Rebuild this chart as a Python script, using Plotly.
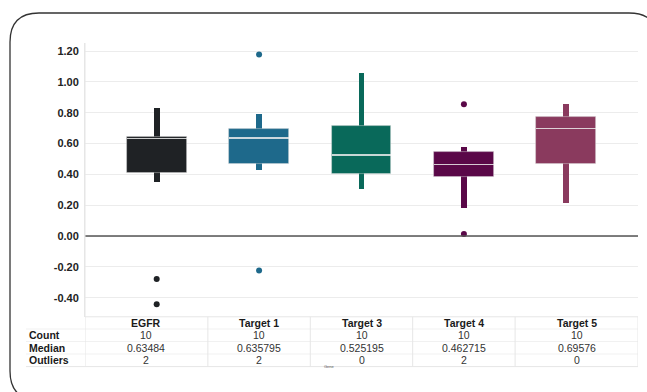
import plotly.graph_objects as go

# ---------------- data ----------------
genes = ["EGFR", "Target 1", "Target 3", "Target 4", "Target 5"]
lower_whisker = [0.35, 0.427, 0.304, 0.179, 0.216]
q1 = [0.41, 0.47, 0.401, 0.384, 0.466]
medians = [0.63484, 0.635795, 0.525195, 0.462715, 0.69576]
q3 = [0.643, 0.693, 0.714, 0.544, 0.772]
upper_whisker = [0.83, 0.794, 1.06, 0.578, 0.859]
outlier_genes = ["EGFR", "EGFR", "Target 1", "Target 1", "Target 4", "Target 4"]
outlier_values = [-0.278, -0.442, 1.178, -0.224, 0.854, 0.013]
counts = [10, 10, 10, 10, 10]
median_labels = ["0.63484", "0.635795", "0.525195", "0.462715", "0.69576"]
outlier_counts = [2, 2, 0, 2, 0]
row_labels = ["Count", "Median", "Outliers"]
y_ticks = [-0.4, -0.2, 0.0, 0.2, 0.4, 0.6, 0.8, 1.0, 1.2]

colors = ["#1f2225", "#1e698b", "#09695a", "#5a0848", "#8a3a5e"]

# ---------------- layout geometry ----------------
W, H = 647, 392
ML, MR, MT, MB = 85, 9, 43, 75
PW, PH = W - ML - MR, H - MT - MB
XR = [-0.7, 4.7]
YR = [-0.525, 1.252]


def px_x(px):
    return (px - ML) / PW


def px_y(py):
    return (H - MB - py) / PH


fig = go.Figure()

# whiskers
fig.add_trace(go.Bar(
    x=genes, base=lower_whisker,
    y=[u - l for u, l in zip(upper_whisker, lower_whisker)],
    width=0.058, marker=dict(color=colors, line=dict(width=0)),
    hoverinfo="skip", showlegend=False))
# boxes
fig.add_trace(go.Bar(
    x=genes, base=q1, y=[b - a for a, b in zip(q1, q3)],
    width=0.585, marker=dict(color=colors, line=dict(color="rgba(215,215,215,0.55)", width=0.8)),
    hoverinfo="skip", showlegend=False))
# medians
fig.add_trace(go.Bar(
    x=genes, base=[m - 0.004 for m in medians], y=[0.008] * len(medians),
    width=0.585, marker=dict(color="rgba(235,235,235,0.85)", line=dict(width=0)),
    hoverinfo="skip", showlegend=False))
# outliers
fig.add_trace(go.Scatter(
    x=outlier_genes, y=outlier_values, mode="markers",
    marker=dict(size=6, color=[colors[genes.index(g)] for g in outlier_genes]),
    hoverinfo="skip", showlegend=False))

shapes = []
annotations = []

# zero line
shapes.append(dict(type="line", xref="paper", yref="y", x0=0, x1=1, y0=0, y1=0,
                   line=dict(color="#555555", width=1.4), layer="above"))

# table geometry
bounds = [XR[0]] + [i + 0.5 for i in range(len(genes) - 1)] + [XR[1]]
row_px = [322.8, 335.0, 347.8, 360.3]
line_px = [316.8, 329.0, 341.5, 354.0, 366.6]
grid_col = "#e6e6e6"

for i, lp in enumerate(line_px):
    shapes.append(dict(type="line", xref="paper", yref="paper",
                       x0=px_x(26) if i > 0 else 0, x1=1,
                       y0=px_y(lp), y1=px_y(lp),
                       line=dict(color=grid_col if i in (0, 4) else "#f1f1f1", width=1)))
for b in bounds:
    shapes.append(dict(type="line", xref="x", yref="paper", x0=b, x1=b,
                       y0=px_y(line_px[-1]), y1=px_y(line_px[0]) if b != XR[0] else 1,
                       line=dict(color=grid_col, width=1)))

font_b = dict(family="Liberation Sans, Arial", size=10.5, color="#1a1a1a")
font_n = dict(family="Liberation Sans, Arial", size=10.5, color="#333333")

for i, g in enumerate(genes):
    cx = (bounds[i] + bounds[i + 1]) / 2
    vals = [f"<b>{g}</b>", str(counts[i]), median_labels[i], str(outlier_counts[i])]
    for r, v in enumerate(vals):
        annotations.append(dict(x=cx, y=px_y(row_px[r]), xref="x", yref="paper",
                                text=v, showarrow=False, xanchor="center", yanchor="middle",
                                font=font_b if r == 0 else font_n))
for r, lab in enumerate(row_labels):
    annotations.append(dict(x=px_x(27), y=px_y(row_px[r + 1]), xref="paper", yref="paper",
                            text=f"<b>{lab}</b>", showarrow=False, xanchor="left",
                            yanchor="middle", font=font_b))

annotations.append(dict(x=px_x(329), y=px_y(371), xref="paper", yref="paper", text="Gene",
                        showarrow=False, font=dict(family="Liberation Sans, Arial", size=4,
                                                   color="#555555")))

# rounded outer border
L, T, R, B, rad = 10, 13, 658, 400, 29


def P(x, y):
    return f"{px_x(x):.5f},{px_y(y):.5f}"


path = (f"M {P(L + rad, T)} L {P(R - rad, T)} Q {P(R, T)} {P(R, T + rad)} "
        f"L {P(R, B - rad)} Q {P(R, B)} {P(R - rad, B)} "
        f"L {P(L + rad, B)} Q {P(L, B)} {P(L, B - rad)} "
        f"L {P(L, T + rad)} Q {P(L, T)} {P(L + rad, T)} Z")
shapes.append(dict(type="path", xref="paper", yref="paper", path=path,
                   line=dict(color="#333333", width=1.3)))

fig.update_layout(
    width=W, height=H,
    margin=dict(l=ML, r=MR, t=MT, b=MB),
    paper_bgcolor="white", plot_bgcolor="white",
    barmode="overlay", bargap=0,
    xaxis=dict(range=XR, showticklabels=False, showgrid=False, zeroline=False,
               showline=False, ticks="", fixedrange=True),
    yaxis=dict(range=YR, tickvals=y_ticks,
               ticktext=[f"<b>{v:.2f}</b>" for v in y_ticks],
               tickfont=dict(family="Liberation Sans, Arial", size=11, color="#222222"),
               showgrid=True, gridcolor="#ececec", gridwidth=1, zeroline=False,
               showline=True, linecolor="#e6e6e6", linewidth=1, ticks="", ticklabelstandoff=3),
    shapes=shapes, annotations=annotations,
)

fig.write_html("out.html")
